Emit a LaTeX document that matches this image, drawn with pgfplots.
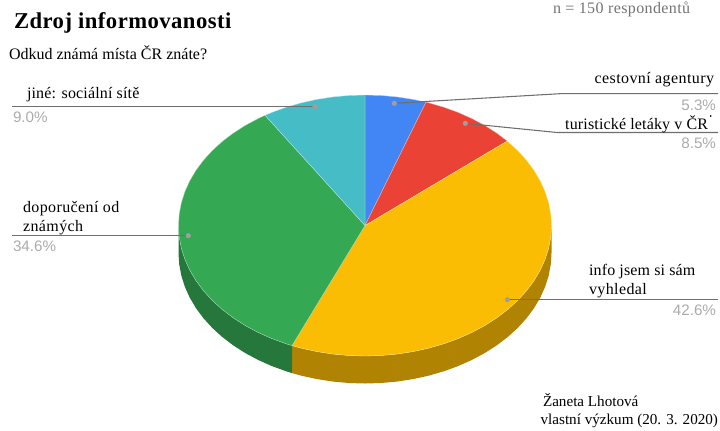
\documentclass[border=0pt]{standalone}
\usepackage{pgfplots}
\pgfplotsset{compat=1.18}
\usepackage{fontspec}
\setmainfont{Liberation Serif}
\newfontfamily\labelfont[LetterSpace=2.5]{Liberation Serif}
\newfontfamily\labeltight[LetterSpace=1]{Liberation Serif}
\newfontfamily\titlefont[LetterSpace=2]{Liberation Serif}
\newfontfamily\pctfont{Liberation Sans}
\definecolor{sliceblue}{HTML}{4285F4}
\definecolor{slicered}{HTML}{EA4335}
\definecolor{slicegold}{HTML}{FBBC04}
\definecolor{slicegreen}{HTML}{34A853}
\definecolor{sliceteal}{HTML}{46BDC6}
\definecolor{wallgold}{HTML}{B08402}
\definecolor{wallgreen}{HTML}{25773B}
\definecolor{pctgray}{HTML}{ABABAB}
\definecolor{leader}{HTML}{6E6E6E}
\definecolor{dotgray}{HTML}{9E9E9E}
\tikzset{
  lw/.style={anchor=base west, inner sep=0pt, outer sep=0pt},
  le/.style={anchor=base east, inner sep=0pt, outer sep=0pt},
}
\newcommand{\lab}{\fontsize{12}{14}\labelfont}
\newcommand{\labt}{\fontsize{12}{14}\labeltight}
\newcommand{\pct}{\fontsize{11.4}{13}\pctfont}
\begin{document}
\begin{tikzpicture}
\useasboundingbox (0,0) rectangle (540pt,322.5pt);
\begin{axis}[
  at={(0,0)}, anchor=south west,
  width=540pt, height=322.5pt, scale only axis,
  xmin=0, xmax=720, ymin=0, ymax=430, y dir=reverse,
  axis lines=none, clip=false,
  slice/.style={line width=0.25pt, draw=white!60!#1, fill=#1},
]
% Side wall of the disc, 27.5 units deep: gold part
\addplot[fill=wallgold, draw=none] coordinates {
(551.50,225.50)(550.79,236.87)(548.67,248.16)(545.15,259.28)(540.25,270.13)(534.03,280.65)
(526.51,290.75)(517.77,300.35)(507.87,309.38)(496.88,317.78)(484.88,325.47)(471.97,332.40)
(458.25,338.51)(443.82,343.77)(428.79,348.13)(413.27,351.55)(397.39,354.02)(381.25,355.50)
(365.00,356.00)(348.75,355.50)(332.61,354.02)(316.73,351.55)(301.21,348.13)(292.00,345.59)
(292.00,373.09)(301.21,375.63)(316.73,379.05)(332.61,381.52)(348.75,383.00)(365.00,383.50)
(381.25,383.00)(397.39,381.52)(413.27,379.05)(428.79,375.63)(443.82,371.27)(458.25,366.01)
(471.97,359.90)(484.88,352.97)(496.88,345.28)(507.87,336.88)(517.77,327.85)(526.51,318.25)
(534.03,308.15)(540.25,297.63)(545.15,286.78)(548.67,275.66)(550.79,264.37)(551.50,253.00)
} --cycle;
% Side wall: green part
\addplot[fill=wallgreen, draw=none] coordinates {
(292.00,345.59)(286.18,343.77)(271.75,338.51)(258.03,332.40)(245.12,325.47)(233.12,317.78)
(222.13,309.38)(212.23,300.35)(203.49,290.75)(195.97,280.65)(189.75,270.13)(184.85,259.28)
(181.33,248.16)(179.21,236.87)(178.50,225.50)
(178.50,253.00)(179.21,264.37)(181.33,275.66)(184.85,286.78)(189.75,297.63)(195.97,308.15)
(203.49,318.25)(212.23,327.85)(222.13,336.88)(233.12,345.28)(245.12,352.97)(258.03,359.90)
(271.75,366.01)(286.18,371.27)(292.00,373.09)
} --cycle;
% Top face, 5.3 %
\addplot[slice=sliceblue] coordinates {
(365,225.5)(365.00,95.00)(381.25,95.50)(397.39,96.98)(413.27,99.45)(425.96,102.17)
} --cycle;
% Top face, 8.5 %
\addplot[slice=slicered] coordinates {
(365,225.5)(425.96,102.17)(428.79,102.87)(443.82,107.23)(458.25,112.49)(471.97,118.60)
(484.88,125.53)(496.88,133.22)(507.20,141.07)
} --cycle;
% Top face, 42.6 %
\addplot[slice=slicegold] coordinates {
(365,225.5)(507.20,141.07)(507.87,141.62)(517.77,150.65)(526.51,160.25)(534.03,170.35)
(540.25,180.87)(545.15,191.72)(548.67,202.84)(550.79,214.13)(551.50,225.50)(550.79,236.87)
(548.67,248.16)(545.15,259.28)(540.25,270.13)(534.03,280.65)(526.51,290.75)(517.77,300.35)
(507.87,309.38)(496.88,317.78)(484.88,325.47)(471.97,332.40)(458.25,338.51)(443.82,343.77)
(428.79,348.13)(413.27,351.55)(397.39,354.02)(381.25,355.50)(365.00,356.00)(348.75,355.50)
(332.61,354.02)(316.73,351.55)(301.21,348.13)(292.00,345.59)
} --cycle;
% Top face, 34.6 %
\addplot[slice=slicegreen] coordinates {
(365,225.5)(292.00,345.59)(286.18,343.77)(271.75,338.51)(258.03,332.40)(245.12,325.47)
(233.12,317.78)(222.13,309.38)(212.23,300.35)(203.49,290.75)(195.97,280.65)(189.75,270.13)
(184.85,259.28)(181.33,248.16)(179.21,236.87)(178.50,225.50)(179.21,214.13)(181.33,202.84)
(184.85,191.72)(189.75,180.87)(195.97,170.35)(203.49,160.25)(212.23,150.65)(222.13,141.62)
(233.12,133.22)(245.12,125.53)(258.03,118.60)(265.07,115.32)
} --cycle;
% Top face, 9.0 %
\addplot[slice=sliceteal] coordinates {
(365,225.5)(265.07,115.32)(271.75,112.49)(286.18,107.23)(301.21,102.87)(316.73,99.45)
(332.61,96.98)(348.75,95.50)(365.00,95.00)
} --cycle;
% Leader lines
\addplot[leader, line width=0.8pt, mark=none] coordinates {(12,106.5)(315,106.5)};
\addplot[leader, line width=0.8pt, mark=none] coordinates {(394.3,103.3)(560,93.7)(718,93.7)};
\addplot[leader, line width=0.8pt, mark=none] coordinates {(465.3,123.3)(557,132.5)(718,132.5)};
\addplot[leader, line width=0.8pt, mark=none] coordinates {(12,235.7)(188.3,235.7)};
\addplot[leader, line width=0.8pt, mark=none] coordinates {(507.3,299.7)(718,299.7)};
% Leader anchors on the slices
\addplot[dotgray, only marks, mark=*, mark size=1.7pt, mark options={solid, draw=dotgray, fill=dotgray}] coordinates {
(315,106.5)(394.3,103.3)(465.3,123.3)(188.3,235.7)(507.3,299.7)};
\addplot[black, only marks, mark=*, mark size=0.4pt] coordinates {(710.7,116)};
% Titles and annotations
\node[lw] at (axis cs:14,28) {\fontsize{17}{20}\titlefont\bfseries Zdroj informovanosti};
\node[lw] at (axis cs:9,59) {\fontsize{12}{14}\selectfont Odkud známá místa ČR znáte?};
\node[lw, text=black!55] at (axis cs:553,13) {\lab n = 150 respondentů};
\node[lw] at (axis cs:543,406) {\fontsize{11.35}{13}\selectfont Žaneta Lhotová};
\node[le] at (axis cs:718,424) {\fontsize{11.35}{13}\selectfont vlastní výzkum (20. 3. 2020)};
% Slice labels
\node[lw] at (axis cs:27,98) {\labt jiné: sociální sítě};
\node[lw, text=pctgray] at (axis cs:13,122) {\pct 9.0\%};
\node[le] at (axis cs:714,83) {\lab cestovní agentury};
\node[le, text=pctgray] at (axis cs:716,110) {\pct 5.3\%};
\node[le] at (axis cs:708,129) {\labt turistické letáky v ČR};
\node[le, text=pctgray] at (axis cs:716,148) {\pct 8.5\%};
\node[lw] at (axis cs:23,212) {\lab doporučení od};
\node[lw] at (axis cs:23,231.7) {\lab známých};
\node[lw, text=pctgray] at (axis cs:13,251.7) {\pct 34.6\%};
\node[lw] at (axis cs:589,275) {\labt info jsem si sám};
\node[lw] at (axis cs:589,294) {\lab vyhledal};
\node[le, text=pctgray] at (axis cs:716,315.7) {\pct 42.6\%};
\end{axis}
\end{tikzpicture}
\end{document}
